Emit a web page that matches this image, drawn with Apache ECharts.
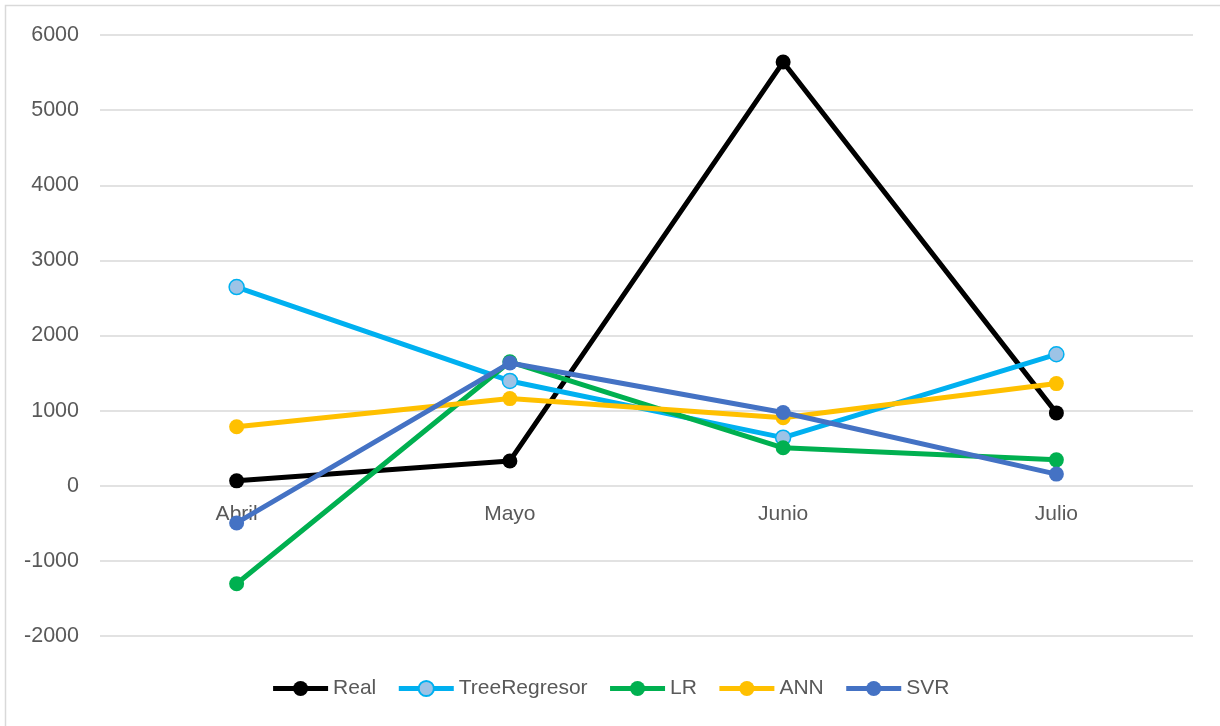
<!DOCTYPE html>
<html>
<head>
<meta charset="utf-8">
<script src="https://cdn.jsdelivr.net/npm/echarts@6/dist/echarts.min.js"></script>
<style>
html,body{margin:0;padding:0;background:#fff;}
#c{width:1220px;height:726px;}
</style>
</head>
<body>
<div id="c"></div>
<script>
const categories = ['Abril', 'Mayo', 'Junio', 'Julio'];
const seriesNames = ['Real', 'TreeRegresor', 'LR', 'ANN', 'SVR'];
const real = [65, 330, 5640, 970];
const treeRegresor = [2645, 1395, 640, 1750];
const lr = [-1305, 1650, 505, 345];
const ann = [785, 1160, 905, 1360];
const svr = [-495, 1635, 975, 155];
const yTicks = [-2000, -1000, 0, 1000, 2000, 3000, 4000, 5000, 6000];

const values = [real, treeRegresor, lr, ann, svr];
const colors = ['#000000', '#00B0F0', '#00B050', '#FFC000', '#4472C4'];
const fills = ['#000000', '#9DC3E6', '#00B050', '#FFC000', '#4472C4'];

const font = '"Liberation Sans", Arial, sans-serif';
const chart = echarts.init(document.getElementById('c'), null, {renderer: 'canvas'});
chart.setOption({
  animation: false,
  backgroundColor: '#ffffff',
  graphic: [{
    type: 'rect', silent: true, z: -10,
    shape: {x: 5.5, y: 5.5, width: 1400, height: 900},
    style: {fill: 'none', stroke: '#d9d9d9', lineWidth: 1.5}
  }],
  grid: {left: 100, right: 27, top: 35, bottom: 90, containLabel: false},
  legend: {
    data: seriesNames,
    bottom: 22,
    left: 'center',
    itemWidth: 55,
    itemHeight: 19,
    itemGap: 20,
    lineStyle: {width: 5},
    textStyle: {fontFamily: font, fontSize: 21, color: '#595959'}
  },
  xAxis: {
    type: 'category',
    data: categories,
    boundaryGap: true,
    offset: -150,
    axisLine: {show: false, onZero: false},
    axisTick: {show: false},
    axisLabel: {fontFamily: font, fontSize: 21, color: '#595959', margin: 18},
    splitLine: {show: false}
  },
  yAxis: {
    type: 'value',
    min: yTicks[0],
    max: yTicks[yTicks.length - 1],
    interval: 1000,
    axisLine: {show: false},
    axisTick: {show: false},
    axisLabel: {fontFamily: font, fontSize: 21.5, color: '#595959', margin: 21, formatter: v => String(v)},
    splitLine: {lineStyle: {color: '#d9d9d9', width: 1.5}}
  },
  series: seriesNames.map((name, i) => ({
    name: name,
    type: 'line',
    data: values[i],
    symbol: 'circle',
    symbolSize: 15,
    lineStyle: {color: colors[i], width: 5},
    itemStyle: {color: fills[i], borderColor: colors[i], borderWidth: i === 1 ? 1.5 : 0},
    z: 2 + i
  }))
});
</script>
</body>
</html>
